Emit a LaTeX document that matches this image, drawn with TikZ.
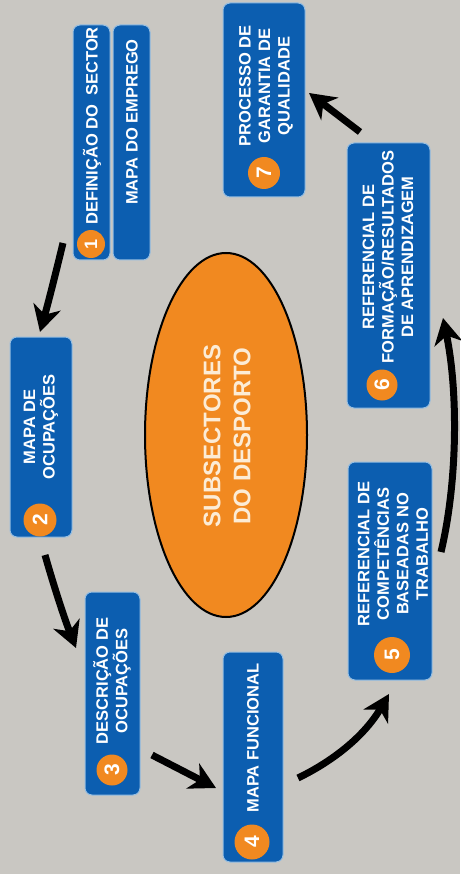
\documentclass[tikz,border=0pt]{standalone}
\usepackage{fontspec}
\setmainfont{Liberation Sans}
\usetikzlibrary{arrows.meta,shapes.geometric}
\definecolor{bg}{RGB}{201,199,194}
\definecolor{boxblue}{RGB}{12,94,176}
\definecolor{boxedge}{RGB}{150,190,225}
\definecolor{orng}{RGB}{241,137,32}
\definecolor{cream}{RGB}{252,236,214}
\begin{document}
\begin{tikzpicture}[x=1pt,y=-1pt,
  stepbox/.style={rectangle,fill=boxblue,draw=boxedge,line width=1pt,rounded corners=7pt,inner sep=0pt},
  num/.style={circle,fill=orng,text=white,font=\bfseries\fontsize{21}{21}\selectfont,inner sep=0pt,rotate=90},
  lbl/.style={text=white,font=\bfseries\fontsize{16.5}{19.5}\selectfont,align=center,rotate=90,inner sep=0pt},
  arr/.style={line width=7pt,-{Stealth[length=26pt,width=28pt,inset=8pt]}}]
\fill[bg] (0,0) rectangle (460,874);
\useasboundingbox (0,0) rectangle (460,874);
% ellipse
\node[ellipse,fill=orng,draw=black,line width=2pt,minimum width=162pt,minimum height=364pt,inner sep=0pt] (hub) at (226,435) {};
\node[text=cream,font=\bfseries\fontsize{24}{30}\selectfont,align=center,rotate=90] (hubtxt) at (227,436) {SUBSECTORES\\DO DESPORTO};
% boxes
\node[stepbox,minimum width=37pt,minimum height=235pt] (b1a) at (91.5,142.5) {};
\node[stepbox,minimum width=37pt,minimum height=235pt] (b1b) at (131.5,142.5) {};
\node[stepbox,minimum width=82pt,minimum height=194pt] (b7) at (264,100) {};
\node[stepbox,minimum width=62pt,minimum height=200pt] (b2) at (41,437) {};
\node[stepbox,minimum width=55pt,minimum height=203pt] (b3) at (112.5,693.5) {};
\node[stepbox,minimum width=60pt,minimum height=210pt] (b4) at (253,757) {};
\node[stepbox,minimum width=84pt,minimum height=218pt] (b5) at (390,571) {};
\node[stepbox,minimum width=83pt,minimum height=265pt] (b6) at (388.5,275.5) {};
% labels
\node[lbl] (t1a) at (92,126) {DEFINIÇÃO DO\ \ SECTOR};
\node[lbl] (t1b) at (132,122) {MAPA DO EMPREGO};
\node[lbl] (t7) at (266,86) {PROCESSO DE\\GARANTIA DE\\QUALIDADE};
\node[lbl] (t2) at (41,427) {MAPA DE\\OCUPAÇÕES};
\node[lbl] (t3) at (112,681) {DESCRIÇÃO DE\\OCUPAÇÕES};
\node[lbl] (t4) at (253,738) {MAPA FUNCIONAL};
\node[lbl] (t5) at (393,554) {REFERENCIAL DE\\COMPETÊNCIAS\\BASEADAS NO\\TRABALHO};
\node[lbl] (t6) at (388,257) {REFERENCIAL DE\\FORMAÇÃO/RESULTADOS\\DE APRENDIZAGEM};
% number circles
\node[num,minimum size=28pt,font=\bfseries\fontsize{18}{18}\selectfont] (n1) at (91,244) {1};
\node[num,minimum size=32pt] (n7) at (264,173) {7};
\node[num,minimum size=33pt] (n2) at (40,520) {2};
\node[num,minimum size=31pt] (n3) at (112,770) {3};
\node[num,minimum size=35pt] (n4) at (252,842) {4};
\node[num,minimum size=36pt] (n5) at (392,655) {5};
\node[num,minimum size=31pt] (n6) at (382,385) {6};
% arrow ends
\coordinate (a1s) at (63,243);  \coordinate (a1e) at (40,332);
\coordinate (a2s) at (45,555);  \coordinate (a2e) at (76,648);
\coordinate (a3s) at (152,755); \coordinate (a3e) at (216,788);
\coordinate (a4s) at (298,778); \coordinate (a4e) at (389,694);
\coordinate (a5s) at (441,552); \coordinate (a5e) at (443,318);
\coordinate (a6s) at (360,132); \coordinate (a6e) at (309,93);
\draw[arr] (a1s) .. controls (56,272) and (49,300) .. (a1e);
\draw[arr] (a2s) .. controls (55,590) and (65,620) .. (a2e);
\draw[arr] (a3s) -- (a3e);
\draw[arr] (a4s) .. controls (335,760) and (365,735) .. (a4e);
\draw[arr] (a5s) .. controls (458,480) and (458,390) .. (a5e);
\draw[arr] (a6s) -- (a6e);
\end{tikzpicture}
\end{document}
